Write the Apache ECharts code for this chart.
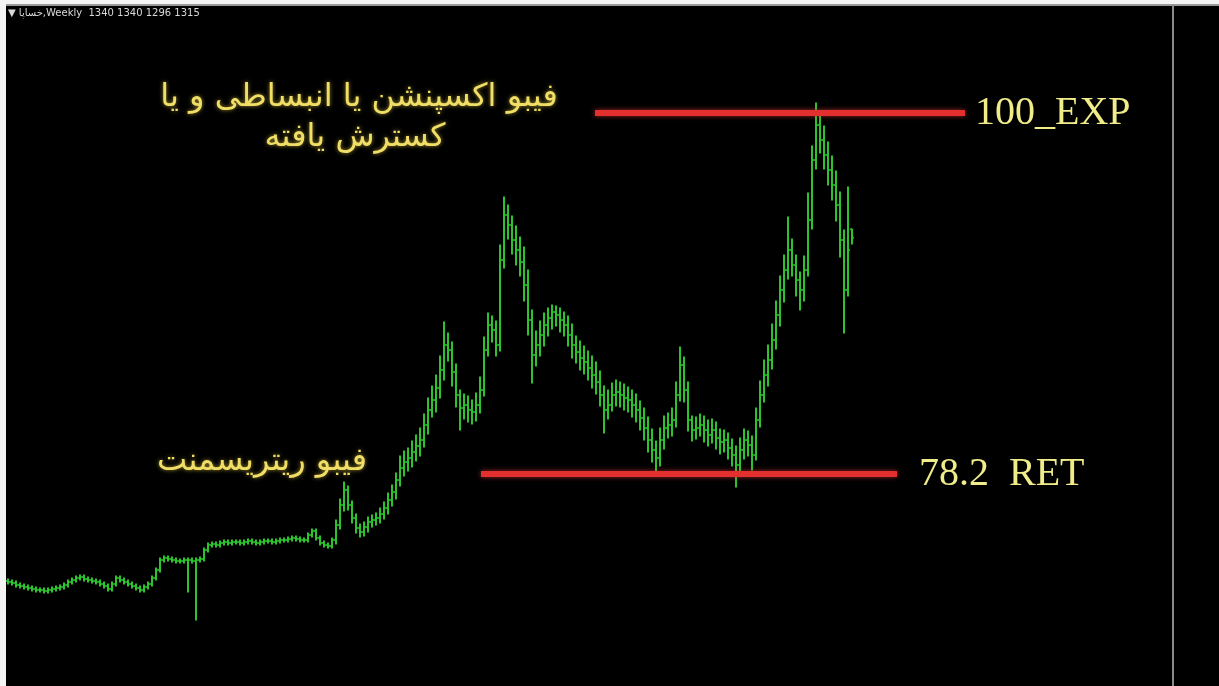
<!DOCTYPE html>
<html><head><meta charset="utf-8">
<script src="https://cdn.jsdelivr.net/npm/echarts@6/dist/echarts.min.js"></script>
<style>html,body{margin:0;padding:0;background:#000;}#c{width:1219px;height:686px;}</style>
</head><body><div id="c"></div>
<script>
// Weekly OHLC bars (price units), index = week number
const opens = [285,282,279,273,270,267,264,261,258,258,
 255,258,261,264,267,273,282,288,294,297,
 291,288,285,282,276,270,261,276,294,288,
 282,276,270,264,258,267,276,294,318,348,
 354,351,348,345,345,348,348,345,348,351,
 378,393,396,393,399,402,399,402,402,399,
 402,405,402,399,402,405,405,402,405,408,
 408,411,414,411,408,408,423,435,414,399,
 393,390,408,453,513,558,513,474,444,432,
 447,462,468,474,486,504,528,552,588,624,
 642,654,672,690,708,753,798,828,864,918,
 993,978,912,843,804,813,798,792,813,858,
 978,1053,1038,993,1248,1383,1353,1308,1278,1242,
 1173,1068,963,993,1023,1053,1074,1092,1083,1068,
 1053,1023,993,972,954,942,924,903,882,843,
 798,813,843,852,843,834,828,813,798,774,
 744,708,678,654,708,744,753,768,843,933,
 858,768,738,744,753,738,723,738,714,702,
 708,684,663,633,678,708,693,663,768,843,
 903,948,1008,1083,1158,1218,1278,1233,1188,1158,
 1218,1368,1548,1653,1608,1563,1518,1473,1413,1308,
 1158,1340];
const closes = [282,279,273,270,267,264,261,258,258,255,
 258,261,264,267,273,282,288,294,297,291,
 288,285,282,276,270,261,276,294,288,282,
 276,270,264,258,267,276,294,318,348,354,
 351,348,345,345,348,348,345,348,351,378,
 393,396,393,399,402,399,402,402,399,402,
 405,402,399,402,405,405,402,405,408,408,
 411,414,411,408,408,423,435,414,399,393,
 390,408,453,513,558,513,474,444,432,447,
 462,468,474,486,504,528,552,588,624,642,
 654,672,690,708,753,798,828,864,918,993,
 978,912,843,804,813,798,792,813,858,978,
 1053,1038,993,1248,1383,1353,1308,1278,1242,1173,
 1068,963,993,1023,1053,1074,1092,1083,1068,1053,
 1023,993,972,954,942,924,903,882,843,798,
 813,843,852,843,834,828,813,798,774,744,
 708,678,654,708,744,753,768,843,933,858,
 768,738,744,753,738,723,738,714,702,708,
 684,663,633,678,708,693,663,768,843,903,
 948,1008,1083,1158,1218,1278,1233,1188,1158,1218,
 1368,1548,1653,1608,1563,1518,1473,1413,1308,1158,
 1278,1315];
const highs = [291,288,285,279,276,273,270,267,264,264,
 264,267,270,273,279,288,294,300,303,303,
 297,294,291,288,282,276,282,300,300,294,
 288,282,276,270,273,282,300,324,354,360,
 360,357,354,351,354,354,354,354,357,384,
 399,402,402,405,408,408,408,408,408,408,
 411,411,408,408,411,411,411,411,414,414,
 417,420,420,417,414,429,441,441,420,405,
 399,414,468,531,582,570,525,486,456,462,
 477,483,489,504,522,549,573,609,660,675,
 684,705,723,744,786,834,870,903,960,1062,
 1029,1002,936,858,846,840,828,849,897,1017,
 1089,1080,1065,1293,1437,1413,1380,1350,1317,1287,
 1218,1098,1035,1065,1089,1104,1113,1110,1104,1092,
 1080,1056,1020,1005,990,975,960,942,915,870,
 858,879,888,882,876,867,858,846,825,804,
 777,741,705,744,780,789,804,882,987,957,
 882,780,777,786,780,768,771,762,741,738,
 729,711,690,714,741,735,720,804,885,948,
 993,1056,1125,1200,1263,1377,1311,1263,1212,1260,
 1449,1590,1719,1692,1650,1602,1560,1515,1452,1338,
 1467,1340];
const lows = [276,273,267,264,261,258,255,252,252,249,
 249,252,255,258,261,267,276,282,288,285,
 282,279,276,270,264,255,255,270,282,276,
 270,264,258,252,252,261,270,288,312,342,
 345,342,339,339,339,252,339,168,342,345,
 372,387,387,387,393,393,393,396,393,393,
 396,396,393,393,396,399,396,396,399,402,
 402,405,405,402,402,402,417,408,393,387,
 384,384,396,441,495,498,459,429,417,420,
 432,447,453,459,471,486,510,531,570,600,
 615,627,645,660,687,726,777,792,834,888,
 945,870,807,738,771,762,756,765,789,840,
 960,1002,960,975,1224,1311,1266,1233,1200,1125,
 1023,879,930,960,990,1020,1041,1050,1032,1020,
 990,954,939,918,906,888,864,846,810,729,
 771,795,810,807,798,792,777,762,738,708,
 672,642,612,630,681,714,720,747,825,822,
 735,705,711,720,702,690,699,681,666,672,
 651,630,567,612,651,660,618,648,747,822,
 870,921,981,1050,1122,1191,1200,1140,1098,1125,
 1200,1341,1521,1569,1521,1473,1428,1365,1257,1029,
 1140,1296];
// Fibonacci levels drawn on the chart
const fibNames = ['100_EXP', '78.2  RET'];
const fibLevels = [1689, 606];
const fibFrom = [146.75, 118.25];
const fibTo = [239.25, 222.25];
const headerText = '\u25BC خساپا,Weekly  1340 1340 1296 1315';
const noteExp = ['فیبو اکسپنشن یا انبساطی و یا', 'کسترش یافته'];
const noteRet = 'فیبو ریتریسمنت';

const barData = opens.map((o, i) => [i, o, closes[i], lows[i], highs[i]]);
const GREEN = '#2cc42c';

function renderBar(params, api) {
  const x = api.value(0);
  const o = api.coord([x, api.value(1)]);
  const c = api.coord([x, api.value(2)]);
  const l = api.coord([x, api.value(3)]);
  const h = api.coord([x, api.value(4)]);
  const st = {stroke: GREEN, lineWidth: 2};
  return {type: 'group', children: [
    {type: 'line', shape: {x1: h[0], y1: h[1] - 0.5, x2: l[0], y2: l[1] + 0.5}, style: st},
    {type: 'line', shape: {x1: o[0] - 1.8, y1: o[1], x2: o[0], y2: o[1]}, style: st},
    {type: 'line', shape: {x1: c[0], y1: c[1], x2: c[0] + 1.8, y2: c[1]}, style: st}
  ]};
}

const fibSeries = fibLevels.map((lv, k) => ({
  type: 'line', silent: true, symbol: 'none', z: 5,
  lineStyle: {color: '#e3302e', width: 6, shadowColor: 'rgba(255,70,70,0.6)', shadowBlur: 5},
  endLabel: {
    show: true, distance: k === 0 ? 10 : 22,
    formatter: fibNames[k], color: '#f0ec8a',
    fontFamily: 'Liberation Serif', fontSize: 40
  },
  data: [[fibFrom[k], lv], [fibTo[k], lv]]
}));

const txtStyle = {fill: '#f0de66', textAlign: 'center', textVerticalAlign: 'middle', textShadowColor: 'rgba(255,230,80,0.6)', textShadowBlur: 4};
const chart = echarts.init(document.getElementById('c'));
chart.setOption({
  backgroundColor: '#000',
  animation: false,
  grid: {left: 0, right: 0, top: 0, bottom: 0},
  xAxis: {type: 'value', min: -2, max: 302.75, show: false},
  yAxis: {type: 'value', min: -30, max: 2028, show: false},
  series: [{type: 'custom', renderItem: renderBar, data: barData, z: 3}].concat(fibSeries),
  graphic: [
    {type: 'rect', shape: {x: 0, y: 0, width: 1219, height: 4}, style: {fill: '#f4f4f4'}, z: 100},
    {type: 'rect', shape: {x: 0, y: 4, width: 1219, height: 2}, style: {fill: '#9a9a9a'}, z: 100},
    {type: 'rect', shape: {x: 0, y: 0, width: 6, height: 686}, style: {fill: '#f4f4f4'}, z: 100},
    {type: 'rect', shape: {x: 1172, y: 5, width: 2, height: 681}, style: {fill: '#8a8a8a'}, z: 100},
    {type: 'text', left: 8, top: 8, z: 100, style: {text: headerText, fill: '#d8d8d8', font: '10px "DejaVu Sans"'}},
    {type: 'text', x: 359, y: 98, z: 100, style: Object.assign({text: noteExp[0], font: '32px "DejaVu Sans"'}, txtStyle)},
    {type: 'text', x: 355, y: 138, z: 100, style: Object.assign({text: noteExp[1], font: '32px "DejaVu Sans"'}, txtStyle)},
    {type: 'text', x: 262, y: 462, z: 100, style: Object.assign({text: noteRet, font: '32px "DejaVu Sans"'}, txtStyle)}
  ]
});
</script></body></html>
